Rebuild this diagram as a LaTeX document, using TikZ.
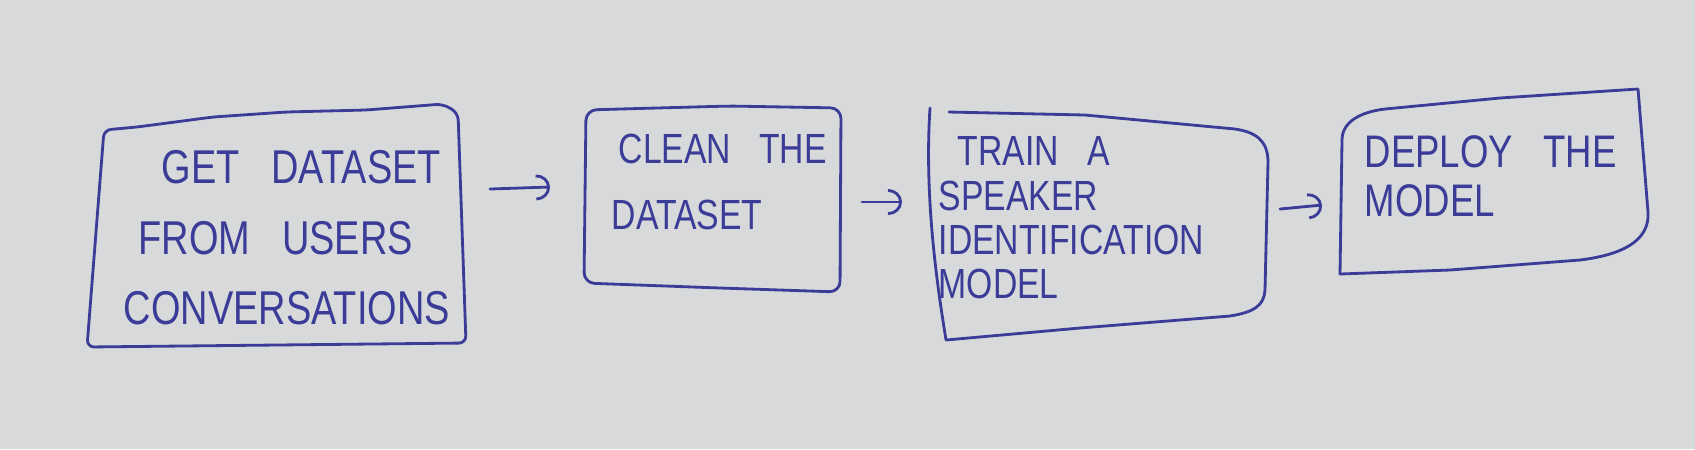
\documentclass[tikz,border=0pt]{standalone}
\usepackage{fontspec}
\setmainfont[FakeStretch=0.8, WordSpace=3]{Liberation Sans}
\usepackage{xcolor}
\usetikzlibrary{arrows.meta}
\definecolor{paper}{RGB}{215,217,218}
\definecolor{ink}{RGB}{58,60,152}

\begin{document}
\begin{tikzpicture}[
		outline/.style={draw=ink, line width=0.8pt, line join=round, line cap=round},
		lbl/.style={anchor=north west, inner sep=0pt, align=left, text=ink},
		>={Arc Barb[length=1.4mm, width=2.6mm]},
		flow/.style={draw=ink, line width=0.8pt, line cap=round, ->}
		]
		
		% --- Paper ---
		\fill[paper] (0,0) rectangle (16.95,-4.49);
		\useasboundingbox (0,0) rectangle (16.95,-4.49);
		
		% --- Sketched Boxes ---
		\draw[outline, rounded corners=2pt] (1.04,-1.30) -- (1.37,-1.27) -- (2.13,-1.17) -- (2.86,-1.12) -- (3.66,-1.10) -- (4.43,-1.04)
			-- (4.58,-1.13) -- (4.66,-3.43) -- (0.87,-3.47) -- cycle;
		\draw[outline, rounded corners=3pt] (5.86,-1.10) -- (6.20,-1.09) -- (7.30,-1.06) -- (8.41,-1.08)
			-- (8.40,-2.92) -- (7.20,-2.88) -- (5.84,-2.83) -- cycle;
		\draw[outline] (9.30,-1.08) .. controls (9.24,-2.00) and (9.38,-2.90) .. (9.46,-3.40) -- (10.80,-3.28) -- (12.30,-3.16)
			.. controls (12.55,-3.12) and (12.64,-3.05) .. (12.65,-2.90) -- (12.68,-1.62)
			.. controls (12.68,-1.40) and (12.55,-1.32) .. (12.35,-1.29) -- (10.85,-1.15) -- (9.49,-1.12);
		\draw[outline] (13.42,-1.40) .. controls (13.42,-1.22) and (13.60,-1.12) .. (13.85,-1.09) -- (15.00,-0.98) -- (16.38,-0.89)
			-- (16.48,-2.12) .. controls (16.50,-2.42) and (16.20,-2.55) .. (15.80,-2.60) -- (14.50,-2.70) -- (13.40,-2.74) -- cycle;
		
		% --- Box Texts ---
		\node[lbl, font=\fontsize{13.5}{20}\selectfont] (get_dataset) at (1.23,-1.50)
			{\hspace*{0.38cm}GET DATASET\\ \hspace*{0.15cm}FROM USERS\\ CONVERSATIONS};
		\node[lbl, font=\fontsize{12}{19}\selectfont] (clean_dataset) at (6.11,-1.33)
			{\hspace*{0.07cm}CLEAN THE\\ DATASET};
		\node[lbl, font=\fontsize{12}{12.6}\selectfont] (train_model) at (9.38,-1.36)
			{\hspace*{0.19cm}TRAIN A\\ SPEAKER\\ IDENTIFICATION\\ MODEL};
		\node[lbl, font=\fontsize{13}{14}\selectfont] (deploy_model) at (13.64,-1.35)
			{DEPLOY THE\\ MODEL};
		
		% --- Arrows Between Steps ---
		\coordinate (get_out) at (4.90,-1.89);
		\coordinate (clean_in) at (5.50,-1.87);
		\coordinate (clean_out) at (8.62,-2.02);
		\coordinate (train_in) at (9.02,-2.02);
		\coordinate (train_out) at (12.80,-2.09);
		\coordinate (deploy_in) at (13.22,-2.05);
		
		\draw[flow] (get_out) -- (clean_in);
		\draw[flow] (clean_out) -- (train_in);
		\draw[flow] (train_out) -- (deploy_in);
		
	\end{tikzpicture}
\end{document}
